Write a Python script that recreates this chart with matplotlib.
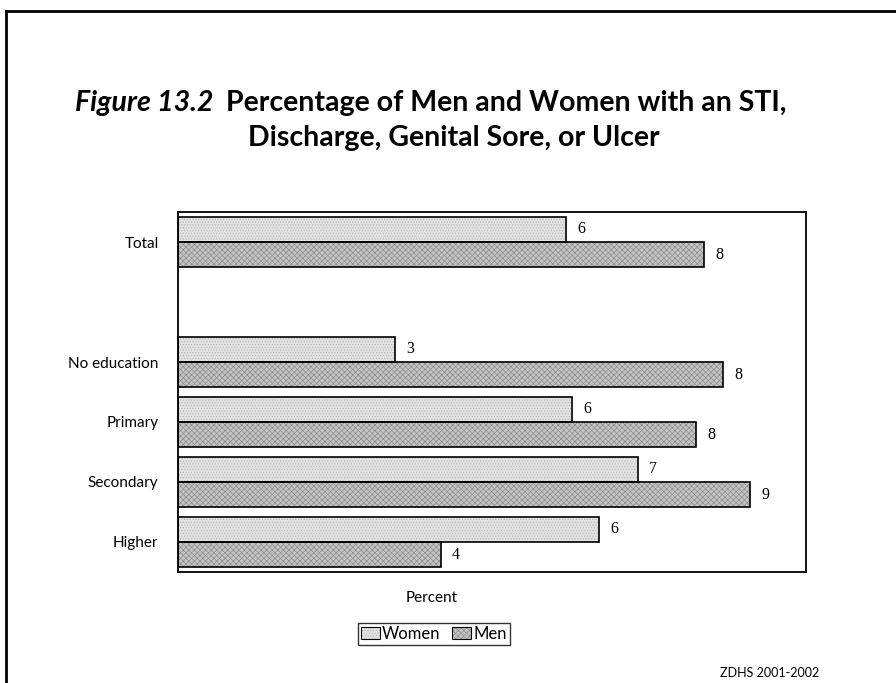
import matplotlib
matplotlib.use("Agg")
import matplotlib.pyplot as plt
from matplotlib.lines import Line2D
from matplotlib.patches import Patch, Rectangle

categories = ["Total", "", "No education", "Primary", "Secondary", "Higher"]
women = [5.93, None, 3.32, 6.02, 7.03, 6.44]
men = [8.04, None, 8.33, 7.92, 8.75, 4.02]
series_names = ["Women", "Men"]

fig = plt.figure(figsize=(8.96, 6.83), dpi=100)
W, H = 896, 683
ax = fig.add_axes([178 / W, 1 - 572 / H, 628 / W, 360 / H])

bh = 0.42
women_face, women_hatch, women_hp = "#e2e2e2", "#b4b4b4", "......"
men_face, men_hatch, men_hp = "#c4c4c4", "#8c8c8c", "xxxxxx"
plt.rcParams["hatch.linewidth"] = 0.5


def draw_bar(y, v, face, hcol, hp):
    ax.barh(y, v, height=bh, color=face, edgecolor=hcol, linewidth=0, hatch=hp, zorder=2)
    ax.barh(y, v, height=bh, fill=False, edgecolor="black", linewidth=1.2, zorder=3)


for i, (w, m) in enumerate(zip(women, men)):
    if w is None:
        continue
    draw_bar(i - bh / 2, w, women_face, women_hatch, women_hp)
    draw_bar(i + bh / 2, m, men_face, men_hatch, men_hp)
    ax.text(w + 0.17, i - bh / 2, f"{round(w)}", va="center", ha="left",
            fontsize=11.5, family="Liberation Serif")
    ax.text(m + 0.17, i + bh / 2, f"{round(m)}", va="center", ha="left",
            fontsize=11.5, family="Liberation Serif")

ax.set_xlim(0, 9.6)
ax.set_ylim(5.5, -0.5)
ax.set_yticks(range(len(categories)))
ax.set_yticklabels(categories, fontsize=11, family="Lato")
ax.tick_params(axis="y", length=0, pad=14)
ax.set_xticks([])
for s in ax.spines.values():
    s.set_linewidth(1.3)

fig.text(432 / W, 1 - 598 / H, "Percent", ha="center", va="center", fontsize=11, family="Lato")


class HatchHandler:
    def __init__(self, face, hcol, hp):
        self.face, self.hcol, self.hp = face, hcol, hp

    def legend_artist(self, legend, orig_handle, fontsize, handlebox):
        x0, y0 = handlebox.xdescent, handlebox.ydescent
        w, h = handlebox.width, handlebox.height
        tr = handlebox.get_transform()
        p1 = Rectangle((x0, y0), w, h, facecolor=self.face, edgecolor=self.hcol,
                       hatch=self.hp, linewidth=0, transform=tr)
        p2 = Rectangle((x0, y0), w, h, fill=False, edgecolor="black", linewidth=0.8,
                       transform=tr)
        handlebox.add_artist(p1)
        handlebox.add_artist(p2)
        return p1


hw = Patch(facecolor=women_face)
hm = Patch(facecolor=men_face)
leg = fig.legend([hw, hm], series_names, loc="center", bbox_to_anchor=(434 / W, 1 - 634 / H),
                 ncol=2, frameon=True, fancybox=False, edgecolor="black",
                 prop={"family": "Lato", "size": 12}, handlelength=1.1, handleheight=0.7,
                 handletextpad=0.15, columnspacing=0.7, borderpad=0.2, borderaxespad=0,
                 handler_map={hw: HatchHandler(women_face, women_hatch, women_hp),
                              hm: HatchHandler(men_face, men_hatch, men_hp)})
leg.get_frame().set_linewidth(1.0)

# title
tfam = "Lato"
tsize = 20
t1 = fig.text(75 / W, 1 - 103 / H, "Figure 13.2", ha="left", va="center", fontsize=tsize,
              family=tfam, style="italic", weight="bold")
t2 = fig.text(238 / W, 1 - 103 / H, "Percentage of Men and Women with an STI,", ha="left",
              va="center", fontsize=tsize, family=tfam, weight="bold")
t3 = fig.text(454 / W, 1 - 138 / H, "Discharge, Genital Sore, or Ulcer", ha="center",
              va="center", fontsize=tsize, family=tfam, weight="bold")
fig.canvas.draw()
r = fig.canvas.get_renderer()
w1 = t1.get_window_extent(r).width
w2 = t2.get_window_extent(r).width
gap = 12
scale = (785 - 75) / (w1 + gap + w2)
for t in (t1, t2, t3):
    t.set_fontsize(tsize * scale)
fig.canvas.draw()
w1 = t1.get_window_extent(r).width
t2.set_x((75 + w1 + gap * scale) / W)

fig.text(770 / W, 1 - 673 / H, "ZDHS 2001-2002", ha="center", va="center", fontsize=9,
         family="Lato")

# page border
fig.add_artist(Line2D([6 / W, 6 / W], [0, 1 - 11 / H], color="black", linewidth=2,
                      transform=fig.transFigure))
fig.add_artist(Line2D([6 / W, 1], [1 - 11 / H, 1 - 11 / H], color="black", linewidth=2,
                      transform=fig.transFigure))

fig.savefig("out.png", dpi=100)
